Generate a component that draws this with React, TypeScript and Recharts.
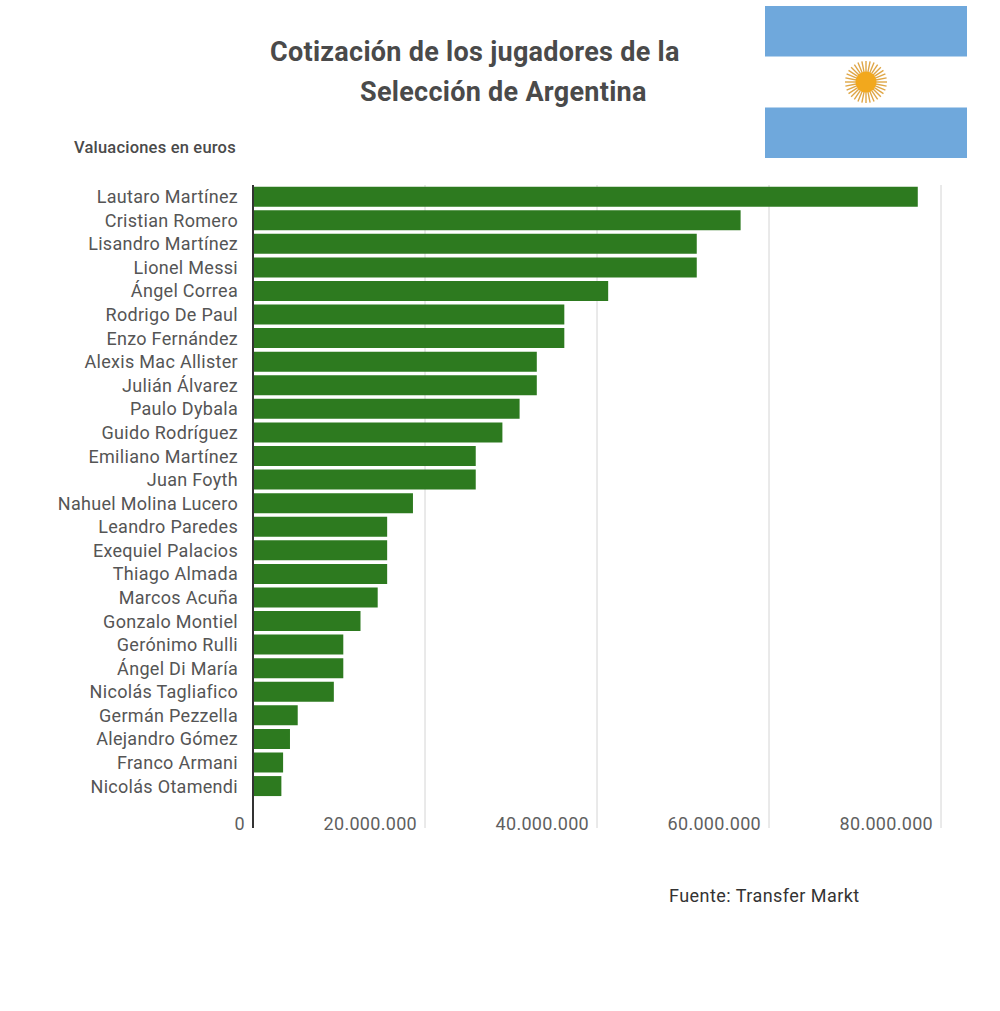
import { BarChart, Bar, XAxis, YAxis, CartesianGrid } from 'recharts'

// Jugadores y cotizacion en euros
const PLAYERS = [
  'Lautaro Martínez', 'Cristian Romero', 'Lisandro Martínez', 'Lionel Messi', 'Ángel Correa',
  'Rodrigo De Paul', 'Enzo Fernández', 'Alexis Mac Allister', 'Julián Álvarez', 'Paulo Dybala',
  'Guido Rodríguez', 'Emiliano Martínez', 'Juan Foyth', 'Nahuel Molina Lucero', 'Leandro Paredes',
  'Exequiel Palacios', 'Thiago Almada', 'Marcos Acuña', 'Gonzalo Montiel', 'Gerónimo Rulli',
  'Ángel Di María', 'Nicolás Tagliafico', 'Germán Pezzella', 'Alejandro Gómez', 'Franco Armani',
  'Nicolás Otamendi',
]
const VALUES = [
  77300000, 56700000, 51600000, 51600000, 41300000,
  36200000, 36200000, 33000000, 33000000, 31000000,
  29000000, 25900000, 25900000, 18600000, 15600000,
  15600000, 15600000, 14500000, 12500000, 10500000,
  10500000, 9400000, 5200000, 4300000, 3500000,
  3300000,
]
const X_TICKS = [0, 20000000, 40000000, 60000000, 80000000]
const X_LABELS = ['0', '20.000.000', '40.000.000', '60.000.000', '80.000.000']

const chartData = PLAYERS.map((name, i) => ({ name, value: VALUES[i] }))
const FONT = 'Roboto, sans-serif'

function XTick({ x, y, payload }: any) {
  // Las etiquetas van dentro del area, a la izquierda de cada linea
  return (
    <text x={x - 8} y={y - 6} textAnchor="end" fontFamily={FONT} fontSize={18} letterSpacing={0.3} fill="#5f5f5f">
      {X_LABELS[X_TICKS.indexOf(payload.value)]}
    </text>
  )
}

function Flag() {
  const rays = Array.from({ length: 32 }, (_, i) => (i * 360) / 32)
  return (
    <svg width={202} height={152} style={{ position: 'absolute', left: 765, top: 6 }}>
      <rect x={0} y={0} width={202} height={50.5} fill="#6fa8dc" />
      <rect x={0} y={101.5} width={202} height={50.5} fill="#6fa8dc" />
      <g transform="translate(101,76)">
        {rays.map((deg) => (
          <line key={deg} x1={0} y1={-10} x2={0} y2={-21} stroke="#dfa646" strokeWidth={1.4} transform={`rotate(${deg})`} />
        ))}
        <circle r={10.5} fill="#f2a81d" />
      </g>
    </svg>
  )
}

export default function App() {
  return (
    <div style={{ position: 'absolute', left: 0, top: 0, width: 1000, height: 1011, background: '#fff', fontFamily: FONT }}>
      <div style={{ position: 'absolute', left: 270, top: 36, fontSize: 27, letterSpacing: 0.28, fontWeight: 700, color: '#4a4a4a', whiteSpace: 'nowrap' }}>
        Cotización de los jugadores de la
      </div>
      <div style={{ position: 'absolute', left: 360, top: 76, fontSize: 27, letterSpacing: 0.28, fontWeight: 700, color: '#4a4a4a', whiteSpace: 'nowrap' }}>
        Selección de Argentina
      </div>
      <div style={{ position: 'absolute', left: 74, top: 138, fontSize: 16.5, letterSpacing: 0.2, fontWeight: 500, color: '#4a4a4a', whiteSpace: 'nowrap' }}>
        Valuaciones en euros
      </div>
      <Flag />
      <BarChart
        width={1000}
        height={1011}
        layout="vertical"
        data={chartData}
        barCategoryGap="7%"
        margin={{ top: 185, right: 59, bottom: 182, left: 0 }}
      >
        <CartesianGrid horizontal={false} stroke="#d4d4d4" />
        <XAxis
          type="number"
          domain={[0, 80000000]}
          ticks={X_TICKS}
          height={1}
          axisLine={false}
          tickLine={false}
          tick={<XTick />}
          interval={0}
        />
        <YAxis
          type="category"
          dataKey="name"
          width={253}
          interval={0}
          padding={{ top: 0, bottom: 30 }}
          axisLine={{ stroke: '#333', strokeWidth: 2 }}
          tickLine={false}
          tickMargin={9}
          tick={{ fontFamily: FONT, fontSize: 18, letterSpacing: 0.3, fill: '#555' }}
        />
        <Bar dataKey="value" fill="#2d7a1f" isAnimationActive={false} />
      </BarChart>
      <div style={{ position: 'absolute', left: 669, top: 885, fontSize: 18, letterSpacing: 0.45, color: '#333', whiteSpace: 'nowrap' }}>
        Fuente: Transfer Markt
      </div>
    </div>
  )
}
